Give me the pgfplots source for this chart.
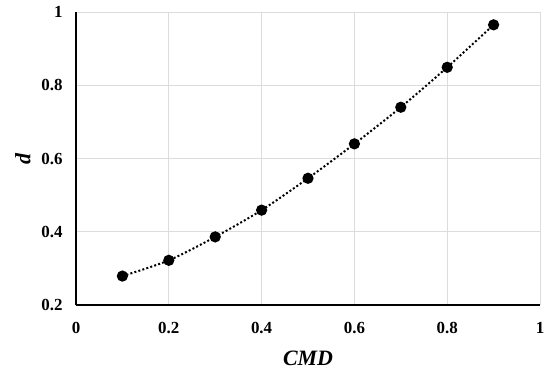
\documentclass[border=0pt]{standalone}
\usepackage{fontspec}
\setmainfont{Liberation Serif}
\usepackage{pgfplots}
\pgfplotsset{compat=1.18}
\definecolor{gridgray}{RGB}{220,220,220}
\begin{document}
\begin{tikzpicture}
\useasboundingbox (-76bp,-67bp) rectangle (470bp,305bp);
\begin{axis}[
  at={(0,0)}, anchor=south west,
  scale only axis,
  width=464bp, height=293bp,
  xmin=0, xmax=1, ymin=0.2, ymax=1,
  xtick={0,0.2,0.4,0.6,0.8,1},
  ytick={0.2,0.4,0.6,0.8,1},
  xticklabels={0,0.2,0.4,0.6,0.8,1},
  yticklabels={0.2,0.4,0.6,0.8,1},
  axis x line*=bottom, axis y line*=left,
  axis line style={black, line width=1.2pt, -},
  major tick length=0pt,
  grid=major,
  major grid style={gridgray, line width=0.8pt},
  tick label style={font=\fontsize{17}{19}\selectfont\bfseries},
  xticklabel style={yshift=-14bp},
  yticklabel style={xshift=-10bp},
  xlabel={\textbf{\textit{CMD}}},
  ylabel={\textbf{\textit{d}}},
  label style={font=\fontsize{22}{25}\selectfont},
  xlabel style={yshift=-10bp},
  ylabel style={yshift=4bp},
  clip=false,
]
\addplot[black, line width=2pt, dash pattern=on 2pt off 2.2pt, smooth, mark=*, mark size=4.6pt, mark options={solid}]
  coordinates {
  (0.1,0.279) (0.2,0.322) (0.3,0.386) (0.4,0.459) (0.5,0.546)
  (0.6,0.640) (0.7,0.740) (0.8,0.849) (0.9,0.965)
  };
\end{axis}
\end{tikzpicture}
\end{document}
